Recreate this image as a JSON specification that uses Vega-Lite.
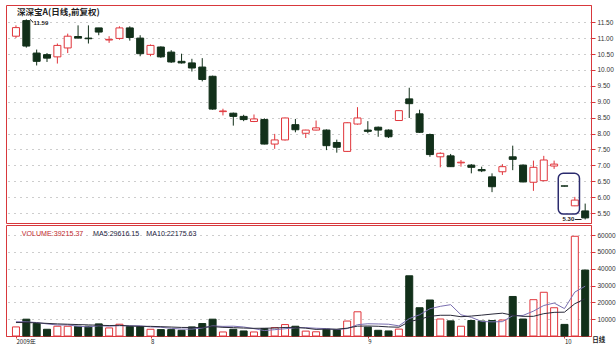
{
  "$schema": "https://vega.github.io/schema/vega-lite/v6.json",
  "background": "white",
  "padding": {"left": 5, "top": 4, "right": 0, "bottom": 0},
  "spacing": 0,
  "config": {
    "view": {"stroke": "#d8383c", "strokeWidth": 1},
    "font": "Liberation Sans",
    "axis": {"domainColor": "#d8383c", "tickColor": "#d8383c", "labelColor": "#333333", "labelFont": "Liberation Sans", "labelFontSize": 6.5, "labelOverlap": false, "labelBound": false, "tickSize": 4, "labelPadding": 2, "title": null, "gridColor": "#9a9a9a", "gridDash": [1, 5], "gridWidth": 1}
  },
  "datasets": {
    "k": [
      {"i": 1, "o": 11.06, "h": 11.40, "l": 11.00, "c": 11.33, "v": 5400, "ma5": 8500, "ma10": 8000},
      {"i": 2, "o": 11.55, "h": 11.59, "l": 10.70, "c": 10.75, "v": 10000, "ma5": 8400, "ma10": 8000},
      {"i": 3, "o": 10.53, "h": 10.64, "l": 10.14, "c": 10.27, "v": 7400, "ma5": 8000, "ma10": 7800},
      {"i": 4, "o": 10.48, "h": 10.53, "l": 10.25, "c": 10.37, "v": 4000, "ma5": 7200, "ma10": 7500},
      {"i": 5, "o": 10.41, "h": 10.83, "l": 10.20, "c": 10.77, "v": 5800, "ma5": 6520, "ma10": 7200},
      {"i": 6, "o": 10.69, "h": 11.14, "l": 10.53, "c": 11.06, "v": 5800, "ma5": 6600, "ma10": 7000},
      {"i": 7, "o": 11.05, "h": 11.40, "l": 10.99, "c": 11.00, "v": 5800, "ma5": 5760, "ma10": 6800},
      {"i": 8, "o": 11.00, "h": 11.40, "l": 10.83, "c": 10.98, "v": 5800, "ma5": 5440, "ma10": 6600},
      {"i": 9, "o": 11.32, "h": 11.32, "l": 11.09, "c": 11.19, "v": 7200, "ma5": 6080, "ma10": 6400},
      {"i": 10, "o": 10.94, "h": 11.06, "l": 10.85, "c": 10.96, "v": 4800, "ma5": 5880, "ma10": 6200},
      {"i": 11, "o": 10.99, "h": 11.37, "l": 10.95, "c": 11.32, "v": 7000, "ma5": 6120, "ma10": 6360},
      {"i": 12, "o": 11.32, "h": 11.37, "l": 10.92, "c": 11.02, "v": 5600, "ma5": 6080, "ma10": 5920},
      {"i": 13, "o": 11.00, "h": 11.09, "l": 10.43, "c": 10.51, "v": 5600, "ma5": 6040, "ma10": 5740},
      {"i": 14, "o": 10.49, "h": 10.80, "l": 10.43, "c": 10.77, "v": 4000, "ma5": 5400, "ma10": 5740},
      {"i": 15, "o": 10.72, "h": 10.74, "l": 10.38, "c": 10.41, "v": 3800, "ma5": 5200, "ma10": 5540},
      {"i": 16, "o": 10.56, "h": 10.62, "l": 10.22, "c": 10.25, "v": 3800, "ma5": 4560, "ma10": 5340},
      {"i": 17, "o": 10.27, "h": 10.51, "l": 10.20, "c": 10.22, "v": 3400, "ma5": 4120, "ma10": 5100},
      {"i": 18, "o": 10.22, "h": 10.35, "l": 9.95, "c": 10.06, "v": 5400, "ma5": 4080, "ma10": 5060},
      {"i": 19, "o": 10.09, "h": 10.37, "l": 9.64, "c": 9.70, "v": 7400, "ma5": 4760, "ma10": 5080},
      {"i": 20, "o": 9.80, "h": 9.82, "l": 8.75, "c": 8.77, "v": 10000, "ma5": 6000, "ma10": 5600},
      {"i": 21, "o": 8.69, "h": 8.78, "l": 8.57, "c": 8.71, "v": 2400, "ma5": 5720, "ma10": 5140},
      {"i": 22, "o": 8.64, "h": 8.66, "l": 8.25, "c": 8.54, "v": 4000, "ma5": 5840, "ma10": 4980},
      {"i": 23, "o": 8.54, "h": 8.59, "l": 8.39, "c": 8.44, "v": 3000, "ma5": 5360, "ma10": 4720},
      {"i": 24, "o": 8.38, "h": 8.60, "l": 8.36, "c": 8.46, "v": 2400, "ma5": 4360, "ma10": 4560},
      {"i": 25, "o": 8.44, "h": 8.48, "l": 7.66, "c": 7.67, "v": 4400, "ma5": 3240, "ma10": 4620},
      {"i": 26, "o": 7.67, "h": 7.99, "l": 7.52, "c": 7.80, "v": 5000, "ma5": 3760, "ma10": 4740},
      {"i": 27, "o": 7.80, "h": 8.50, "l": 7.78, "c": 8.49, "v": 6800, "ma5": 4320, "ma10": 5080},
      {"i": 28, "o": 8.28, "h": 8.46, "l": 8.04, "c": 8.12, "v": 5800, "ma5": 4880, "ma10": 5120},
      {"i": 29, "o": 8.01, "h": 8.12, "l": 7.86, "c": 8.11, "v": 2900, "ma5": 4980, "ma10": 4670},
      {"i": 30, "o": 8.11, "h": 8.41, "l": 8.10, "c": 8.18, "v": 2500, "ma5": 4600, "ma10": 3920},
      {"i": 31, "o": 8.11, "h": 8.13, "l": 7.48, "c": 7.62, "v": 4000, "ma5": 4400, "ma10": 4080},
      {"i": 32, "o": 7.72, "h": 7.81, "l": 7.40, "c": 7.57, "v": 3800, "ma5": 3800, "ma10": 4060},
      {"i": 33, "o": 7.44, "h": 8.36, "l": 7.42, "c": 8.34, "v": 8900, "ma5": 4420, "ma10": 4650},
      {"i": 34, "o": 8.30, "h": 8.83, "l": 8.28, "c": 8.49, "v": 14400, "ma5": 6720, "ma10": 5850},
      {"i": 35, "o": 8.11, "h": 8.39, "l": 8.01, "c": 8.07, "v": 5300, "ma5": 7280, "ma10": 5940},
      {"i": 36, "o": 8.20, "h": 8.22, "l": 7.90, "c": 8.11, "v": 3400, "ma5": 7160, "ma10": 5780},
      {"i": 37, "o": 8.11, "h": 8.13, "l": 7.86, "c": 7.90, "v": 3000, "ma5": 7000, "ma10": 5400},
      {"i": 38, "o": 8.41, "h": 8.74, "l": 8.40, "c": 8.72, "v": 4100, "ma5": 6040, "ma10": 5230},
      {"i": 39, "o": 9.09, "h": 9.44, "l": 8.49, "c": 8.94, "v": 35800, "ma5": 10320, "ma10": 8520},
      {"i": 40, "o": 8.62, "h": 8.75, "l": 8.02, "c": 8.04, "v": 16800, "ma5": 12620, "ma10": 9950},
      {"i": 41, "o": 7.97, "h": 8.00, "l": 7.27, "c": 7.34, "v": 21400, "ma5": 16220, "ma10": 11690},
      {"i": 42, "o": 7.27, "h": 7.41, "l": 6.94, "c": 7.38, "v": 10100, "ma5": 17640, "ma10": 12320},
      {"i": 43, "o": 7.30, "h": 7.36, "l": 6.95, "c": 6.96, "v": 9000, "ma5": 18620, "ma10": 12330},
      {"i": 44, "o": 7.08, "h": 7.17, "l": 6.96, "c": 7.10, "v": 5800, "ma5": 12620, "ma10": 11470},
      {"i": 45, "o": 7.01, "h": 7.04, "l": 6.75, "c": 6.94, "v": 9200, "ma5": 11100, "ma10": 11860},
      {"i": 46, "o": 6.87, "h": 6.96, "l": 6.79, "c": 6.83, "v": 8900, "ma5": 8600, "ma10": 12410},
      {"i": 47, "o": 6.64, "h": 6.75, "l": 6.16, "c": 6.33, "v": 9200, "ma5": 8420, "ma10": 13030},
      {"i": 48, "o": 6.80, "h": 7.04, "l": 6.70, "c": 6.96, "v": 9500, "ma5": 8520, "ma10": 13570},
      {"i": 49, "o": 7.27, "h": 7.62, "l": 6.85, "c": 7.19, "v": 23500, "ma5": 12060, "ma10": 12340},
      {"i": 50, "o": 7.01, "h": 7.03, "l": 6.47, "c": 6.48, "v": 10100, "ma5": 12240, "ma10": 11670},
      {"i": 51, "o": 6.47, "h": 7.15, "l": 6.20, "c": 6.94, "v": 21600, "ma5": 14780, "ma10": 11690},
      {"i": 52, "o": 6.52, "h": 7.30, "l": 6.50, "c": 7.17, "v": 26000, "ma5": 18140, "ma10": 13280},
      {"i": 53, "o": 6.98, "h": 7.15, "l": 6.89, "c": 7.04, "v": 16800, "ma5": 19600, "ma10": 14060},
      {"i": 54, "o": 6.355, "h": 6.36, "l": 6.34, "c": 6.35, "v": 6900, "ma5": 16280, "ma10": 14170},
      {"i": 55, "o": 5.73, "h": 6.01, "l": 5.72, "c": 5.91, "v": 59300, "ma5": 26120, "ma10": 19180},
      {"i": 56, "o": 5.57, "h": 5.80, "l": 5.30, "c": 5.35, "v": 39215.37, "ma5": 29616.15, "ma10": 22175.63}
    ]
  },
  "vconcat": [
    {
      "width": 585,
      "height": 218,
      "layer": [
        {
          "data": {"name": "k"},
          "mark": {"type": "rule", "strokeWidth": 1},
          "encoding": {
            "x": {"field": "i", "type": "quantitative", "scale": {"domain": [0.52, 56.08], "nice": false, "zero": false}, "axis": null},
            "y": {"field": "l", "type": "quantitative", "scale": {"domain": [5.19, 12.04], "nice": false, "zero": false},
                  "axis": {"orient": "right", "values": [5.5, 6, 6.5, 7, 7.5, 8, 8.5, 9, 9.5, 10, 10.5, 11, 11.5], "format": ".2f", "grid": true, "labelOverlap": false, "tickCount": 13}},
            "y2": {"field": "h"},
            "color": {"condition": {"test": "datum.c >= datum.o", "value": "#e0353b"}, "value": "#12301a"}
          }
        },
        {
          "data": {"name": "k"},
          "mark": {"type": "bar", "size": 7, "strokeWidth": 1},
          "encoding": {
            "x": {"field": "i", "type": "quantitative"},
            "y": {"field": "o", "type": "quantitative"},
            "y2": {"field": "c"},
            "fill": {"condition": {"test": "datum.c >= datum.o", "value": "#ffffff"}, "value": "#12301a"},
            "stroke": {"condition": {"test": "datum.c >= datum.o", "value": "#e0353b"}, "value": "#12301a"}
          }
        },
        {
          "data": {"values": [{"t": "深深宝A(日线,前复权)"}]},
          "mark": {"type": "text", "align": "left", "baseline": "middle", "font": "Noto Sans CJK SC", "fontSize": 8.5, "fontWeight": "bold", "color": "#222222"},
          "encoding": {"x": {"datum": 1.1}, "y": {"datum": 11.83}, "text": {"field": "t"}}
        },
        {
          "data": {"values": [{"t": "11.59"}]},
          "mark": {"type": "text", "align": "left", "baseline": "middle", "fontSize": 6, "fontWeight": "bold", "color": "#222222"},
          "encoding": {"x": {"datum": 2.7}, "y": {"datum": 11.47}, "text": {"field": "t"}}
        },
        {
          "data": {"values": [{}]},
          "mark": {"type": "rule", "color": "#222222", "strokeWidth": 1},
          "encoding": {"x": {"datum": 2.35}, "x2": {"datum": 2.65}, "y": {"datum": 11.59}, "y2": {"datum": 11.5}}
        },
        {
          "data": {"values": [{"t": "5.30"}]},
          "mark": {"type": "text", "align": "right", "baseline": "middle", "fontSize": 6, "fontWeight": "bold", "color": "#222222"},
          "encoding": {"x": {"datum": 54.95}, "y": {"datum": 5.3}, "text": {"field": "t"}}
        },
        {
          "data": {"values": [{}]},
          "mark": {"type": "rule", "color": "#222222", "strokeWidth": 1},
          "encoding": {"x": {"datum": 55.0}, "x2": {"datum": 55.65}, "y": {"datum": 5.3}}
        },
        {
          "data": {"values": [{}]},
          "mark": {"type": "rect", "fill": null, "fillOpacity": 0, "stroke": "#2b2b6e", "strokeWidth": 1.5, "cornerRadius": 5},
          "encoding": {"x": {"datum": 53.4}, "x2": {"datum": 55.45}, "y": {"datum": 6.75}, "y2": {"datum": 5.47}}
        }
      ]
    },
    {
      "width": 585,
      "height": 111,
      "layer": [
        {
          "data": {"name": "k"},
          "mark": {"type": "bar", "size": 7, "strokeWidth": 1},
          "encoding": {
            "x": {"field": "i", "type": "quantitative", "scale": {"domain": [0.52, 56.08], "nice": false, "zero": false},
                  "axis": {"orient": "bottom", "values": [1, 14, 35, 54], "labelExpr": "datum.value == 1 ? '2009年' : datum.value == 14 ? '8' : datum.value == 35 ? '9' : '10'", "labelAlign": "left", "labelFont": "Noto Sans CJK SC", "labelFontSize": 6, "labelColor": "#222222", "tickSize": 2, "labelPadding": 0, "grid": false, "labelOverlap": false}},
            "y": {"field": "v", "type": "quantitative", "scale": {"domain": [0, 66000], "nice": false},
                  "axis": {"orient": "right", "values": [10000, 20000, 30000, 40000, 50000, 60000], "format": "d", "grid": true, "labelOverlap": false, "tickCount": 6}},
            "y2": {"datum": 0},
            "fill": {"condition": {"test": "datum.c >= datum.o", "value": "#ffffff"}, "value": "#12301a"},
            "stroke": {"condition": {"test": "datum.c >= datum.o", "value": "#e0353b"}, "value": "#12301a"}
          }
        },
        {
          "data": {"name": "k"},
          "mark": {"type": "line", "strokeWidth": 1, "color": "#7a6fb0"},
          "encoding": {"x": {"field": "i", "type": "quantitative"}, "y": {"field": "ma5", "type": "quantitative"}}
        },
        {
          "data": {"name": "k"},
          "mark": {"type": "line", "strokeWidth": 1, "color": "#2a2a3a"},
          "encoding": {"x": {"field": "i", "type": "quantitative"}, "y": {"field": "ma10", "type": "quantitative"}}
        },
        {
          "data": {"values": [{"t": "VOLUME:39215.37"}]},
          "mark": {"type": "text", "align": "left", "baseline": "middle", "fontSize": 7.1, "color": "#c0282e"},
          "encoding": {"x": {"datum": 1.56}, "y": {"datum": 60700}, "text": {"field": "t"}}
        },
        {
          "data": {"values": [{"t": "MA5:29616.15"}]},
          "mark": {"type": "text", "align": "left", "baseline": "middle", "fontSize": 7.1, "color": "#1c1c40"},
          "encoding": {"x": {"datum": 8.45}, "y": {"datum": 60700}, "text": {"field": "t"}}
        },
        {
          "data": {"values": [{"t": "MA10:22175.63"}]},
          "mark": {"type": "text", "align": "left", "baseline": "middle", "fontSize": 7.1, "color": "#1c1c40"},
          "encoding": {"x": {"datum": 13.6}, "y": {"datum": 60700}, "text": {"field": "t"}}
        },
        {
          "data": {"values": [{"t": "日线"}]},
          "mark": {"type": "text", "align": "center", "baseline": "middle", "font": "Noto Sans CJK SC", "fontSize": 6.5, "fontWeight": "bold", "color": "#222222"},
          "encoding": {"x": {"datum": 57.3}, "y": {"datum": -2600}, "text": {"field": "t"}}
        }
      ]
    }
  ]
}
